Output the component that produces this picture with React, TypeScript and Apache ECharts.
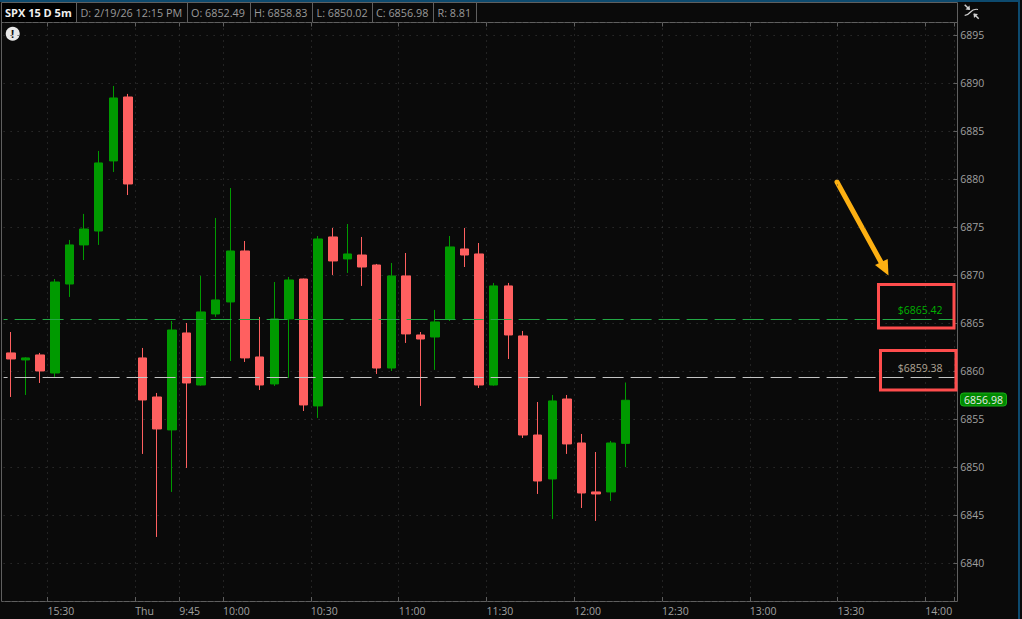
import React, { useEffect, useRef } from "react";
import * as echarts from "echarts";

const categories = [
  "15:15","15:20","15:25","15:30","15:35","15:40","15:45","15:50","15:55",
  "Thu","9:35","9:40","9:45","9:50","9:55","10:00","10:05","10:10","10:15","10:20","10:25",
  "10:30","10:35","10:40","10:45","10:50","10:55","11:00","11:05","11:10","11:15","11:20","11:25",
  "11:30","11:35","11:40","11:45","11:50","11:55","12:00","12:05","12:10","12:15","12:20","12:25",
  "12:30","12:35","12:40","12:45","12:50","12:55","13:00","13:05","13:10","13:15","13:20","13:25",
  "13:30","13:35","13:40","13:45","13:50","13:55","14:00","14:05",
];
const tickLabels = ["15:30","Thu","9:45","10:00","10:30","11:00","11:30","12:00","12:30","13:00","13:30","14:00"];

const opens = [
  6861.91,6861.18,6861.70,6859.82,6869.09,6873.16,6874.61,6881.91,6888.57,
  6861.39,6857.32,6853.89,6863.99,6858.57,6865.97,6867.22,6872.53,6861.49,6858.68,6865.45,6869.61,
  6856.39,6873.99,6871.70,6872.11,6871.07,6860.34,6869.93,6863.78,6863.57,6865.45,6872.74,6872.22,
  6858.57,6868.89,6863.68,6853.36,6848.78,6857.11,6852.53,6847.43,6847.43,6852.49,
];
const closes = [
  6861.28,6861.39,6860.03,6869.30,6873.16,6874.82,6881.70,6888.47,6879.51,
  6857.01,6853.99,6864.30,6858.78,6866.18,6867.43,6872.53,6861.39,6858.57,6865.45,6869.51,6856.49,
  6873.78,6871.49,6872.22,6870.86,6860.34,6869.93,6863.89,6863.36,6865.14,6872.95,6872.11,6858.57,
  6868.89,6863.78,6853.36,6848.57,6856.91,6852.43,6847.32,6847.22,6852.53,6856.98,
];
const lows = [
  6857.32,6857.53,6858.78,6859.41,6867.74,6871.59,6873.16,6880.76,6878.36,
  6851.39,6842.74,6847.43,6849.93,6858.50,6865.66,6861.07,6860.97,6858.05,6858.47,6859.30,6855.86,
  6855.14,6870.03,6870.24,6868.89,6859.72,6860.03,6862.95,6856.39,6860.14,6865.24,6870.86,6858.26,
  6858.50,6861.28,6853.05,6847.22,6844.61,6851.39,6845.76,6844.41,6846.49,6850.02,
];
const highs = [
  6864.09,6861.46,6861.91,6869.61,6873.68,6876.39,6882.95,6889.72,6888.89,
  6862.43,6857.74,6865.24,6865.03,6869.93,6875.97,6879.09,6873.57,6865.66,6869.30,6869.82,6869.65,
  6874.09,6874.93,6875.34,6873.99,6871.18,6871.28,6872.32,6864.09,6866.39,6874.09,6874.93,6873.36,
  6869.20,6869.20,6864.20,6856.80,6857.53,6857.53,6853.47,6851.59,6852.74,6858.83,
];

const upperLevel = 6865.42;
const lowerLevel = 6859.38;
const lastPrice = "6856.98";
const headerCells = ["D: 2/19/26 12:15 PM","O: 6852.49","H: 6858.83","L: 6850.02","C: 6856.98","R: 8.81"];
const headerX = [80.5, 191, 254, 316.5, 376, 437.5];
const headerSeparators = [76.5, 187.5, 250.5, 312.5, 372.5, 433.5, 476.5];

const FONT = "'Open Sans', sans-serif";
const FRAME = "#5f5f5f";
const GREEN = "#009a00";
const RED = "#ff6060";

export default function App() {
  const ref = useRef<HTMLDivElement>(null);
  useEffect(() => {
    const chart = echarts.init(ref.current!, null, { renderer: "svg" });
    const isTick = (_: number, value: string) => tickLabels.includes(value);
    const seg = (x1: number, y1: number, x2: number, y2: number, stroke: string, lineWidth = 1, extra: any = {}) => ({
      type: "line",
      shape: { x1, y1, x2, y2 },
      style: { stroke, lineWidth, ...extra },
      silent: true,
    });
    const ticksCommon = {
      show: true,
      inside: true,
      length: 4,
      interval: isTick,
      lineStyle: { color: FRAME, width: 1 },
    };
    chart.setOption({
      animation: false,
      backgroundColor: "#0a0a0a",
      grid: { left: 3.6, top: 22.5, width: 951, height: 578.5, containLabel: false },
      xAxis: [
        {
          type: "category",
          data: categories,
          boundaryGap: true,
          axisLine: { show: false },
          axisTick: ticksCommon,
          axisLabel: {
            show: true,
            interval: isTick,
            color: "#a0a0a0",
            fontFamily: FONT,
            fontSize: 10.5,
            align: "left",
            margin: 4,
            padding: [0, 0, 0, -7.3],
            hideOverlap: false,
          },
          splitLine: {
            show: true,
            interval: isTick,
            lineStyle: { color: "#3c3c3c", type: [1, 5], width: 1 },
          },
        },
        {
          type: "category",
          position: "top",
          data: categories,
          boundaryGap: true,
          axisLine: { show: false },
          axisTick: ticksCommon,
          axisLabel: { show: false },
          splitLine: { show: false },
        },
      ],
      yAxis: {
        type: "value",
        position: "right",
        offset: 2.7,
        min: 6836.07,
        max: 6896.33,
        splitNumber: 12,
        axisLine: { show: false },
        axisTick: { show: true, inside: true, length: 4, lineStyle: { color: FRAME, width: 1 } },
        axisLabel: {
          color: "#a0a0a0",
          fontFamily: FONT,
          fontSize: 10.5,
          margin: 3,
          showMinLabel: false,
          showMaxLabel: false,
          formatter: (v: number) => String(v),
        },
        splitLine: { show: true, lineStyle: { color: "#3c3c3c", type: [1, 6], width: 1 } },
      },
      series: [
        {
          type: "candlestick",
          xAxisIndex: 0,
          barWidth: 9,
          data: opens.map((o, i) => [o, closes[i], lows[i], highs[i]]),
          itemStyle: { color: GREEN, color0: RED, borderColor: GREEN, borderColor0: RED, borderWidth: 1 },
          markLine: {
            silent: true,
            symbol: "none",
            animation: false,
            data: [
              {
                yAxis: upperLevel,
                lineStyle: { color: "#22a844", width: 1, type: [21, 7], dashOffset: 16.6 },
                label: {
                  show: true,
                  position: "insideEndTop",
                  distance: [12, 4],
                  formatter: "$" + upperLevel.toFixed(2),
                  color: "#00b000",
                  fontFamily: FONT,
                  fontSize: 10.5,
                },
              },
              {
                yAxis: lowerLevel,
                lineStyle: { color: "#c4c4c4", width: 1, type: [21, 7], dashOffset: 16.6 },
                label: {
                  show: true,
                  position: "insideEndTop",
                  distance: [12, 4],
                  formatter: "$" + lowerLevel.toFixed(2),
                  color: "#b0a595",
                  fontFamily: FONT,
                  fontSize: 10.5,
                },
              },
            ],
          },
        },
      ],
      graphic: [
        // frame
        seg(1.5, 2.5, 1.5, 601.5, FRAME),
        seg(1.5, 601.5, 957.5, 601.5, FRAME),
        seg(957.5, 2.5, 957.5, 601.5, FRAME),
        seg(1.5, 22.5, 957.5, 22.5, FRAME),
        seg(1.5, 2.5, 957.5, 2.5, FRAME),
        // window edges
        { type: "rect", shape: { x: 0, y: 0, width: 1020, height: 2 }, style: { fill: "#0d4a6e" }, silent: true },
        { type: "rect", shape: { x: 1018, y: 0, width: 2, height: 619 }, style: { fill: "#0d4a6e" }, silent: true },
        // header
        ...headerSeparators.map((x) => seg(x, 2.5, x, 22.5, FRAME)),
        { type: "rect", shape: { x: 2, y: 3, width: 74, height: 19 }, style: { fill: "#000" }, silent: true },
        {
          type: "text", x: 5, y: 12.5,
          style: { text: "SPX 15 D 5m", fill: "#f0f0f0", font: `bold 11px ${FONT}`, verticalAlign: "middle" },
          silent: true,
        },
        ...headerCells.map((text, i) => ({
          type: "text", x: headerX[i], y: 12.5,
          style: { text, fill: "#9a9a9a", font: `10.8px ${FONT}`, verticalAlign: "middle" },
          silent: true,
        })),
        // alert icon
        { type: "circle", shape: { cx: 12.7, cy: 33.7, r: 7 }, style: { fill: "#e8e8e8" }, silent: true },
        {
          type: "text", x: 12.7, y: 33.7,
          style: { text: "!", fill: "#111", font: `bold 11px ${FONT}`, align: "center", verticalAlign: "middle" },
          silent: true,
        },
        // expand icon
        seg(964.7, 4.7, 969.3, 9.3, "#d0d0d0", 1.5),
        { type: "polygon", shape: { points: [[970, 10], [965.5, 9.5], [969.5, 5.5]] }, style: { fill: "#d0d0d0" }, silent: true },
        seg(974, 14, 978.7, 18.7, "#d0d0d0", 1.5),
        { type: "polygon", shape: { points: [[973.5, 13.5], [978, 14], [974, 18]] }, style: { fill: "#d0d0d0" }, silent: true },
        {
          type: "bezierCurve",
          shape: { x1: 964.7, y1: 15.3, cpx1: 971, cpy1: 15.5, cpx2: 970, cpy2: 7.5, x2: 978, y2: 9.5 },
          style: { stroke: "#d0d0d0", lineWidth: 1.2, fill: "none" },
          silent: true,
        },
        // last price tag
        {
          type: "rect",
          shape: { x: 960.5, y: 393, width: 46, height: 13, r: 3 },
          style: { fill: "#008a00", stroke: "#19b019", lineWidth: 1 },
          silent: true,
        },
        {
          type: "text", x: 983.5, y: 399.7,
          style: { text: lastPrice, fill: "#eaeaea", font: `10.5px ${FONT}`, align: "center", verticalAlign: "middle" },
          silent: true,
        },
        // annotation boxes
        { type: "rect", shape: { x: 878.5, y: 284.5, width: 75.5, height: 43.5 }, style: { fill: "none", stroke: "#ff4d4d", lineWidth: 3 }, silent: true, z: 10 },
        { type: "rect", shape: { x: 880.5, y: 350.5, width: 75.5, height: 39.5 }, style: { fill: "none", stroke: "#ff4d4d", lineWidth: 3 }, silent: true, z: 10 },
        // annotation arrow
        seg(837, 182, 882, 264, "#fdb012", 5, { lineCap: "round" }),
        { type: "polygon", shape: { points: [[888.5, 275.5], [875, 265], [887.7, 259]] }, style: { fill: "#fdb012" }, silent: true, z: 10 },
      ],
    });
    return () => chart.dispose();
  }, []);
  return (
    <div
      ref={ref}
      style={{ position: "fixed", left: 0, top: 0, width: 1022, height: 619, background: "#0a0a0a" }}
    />
  );
}
